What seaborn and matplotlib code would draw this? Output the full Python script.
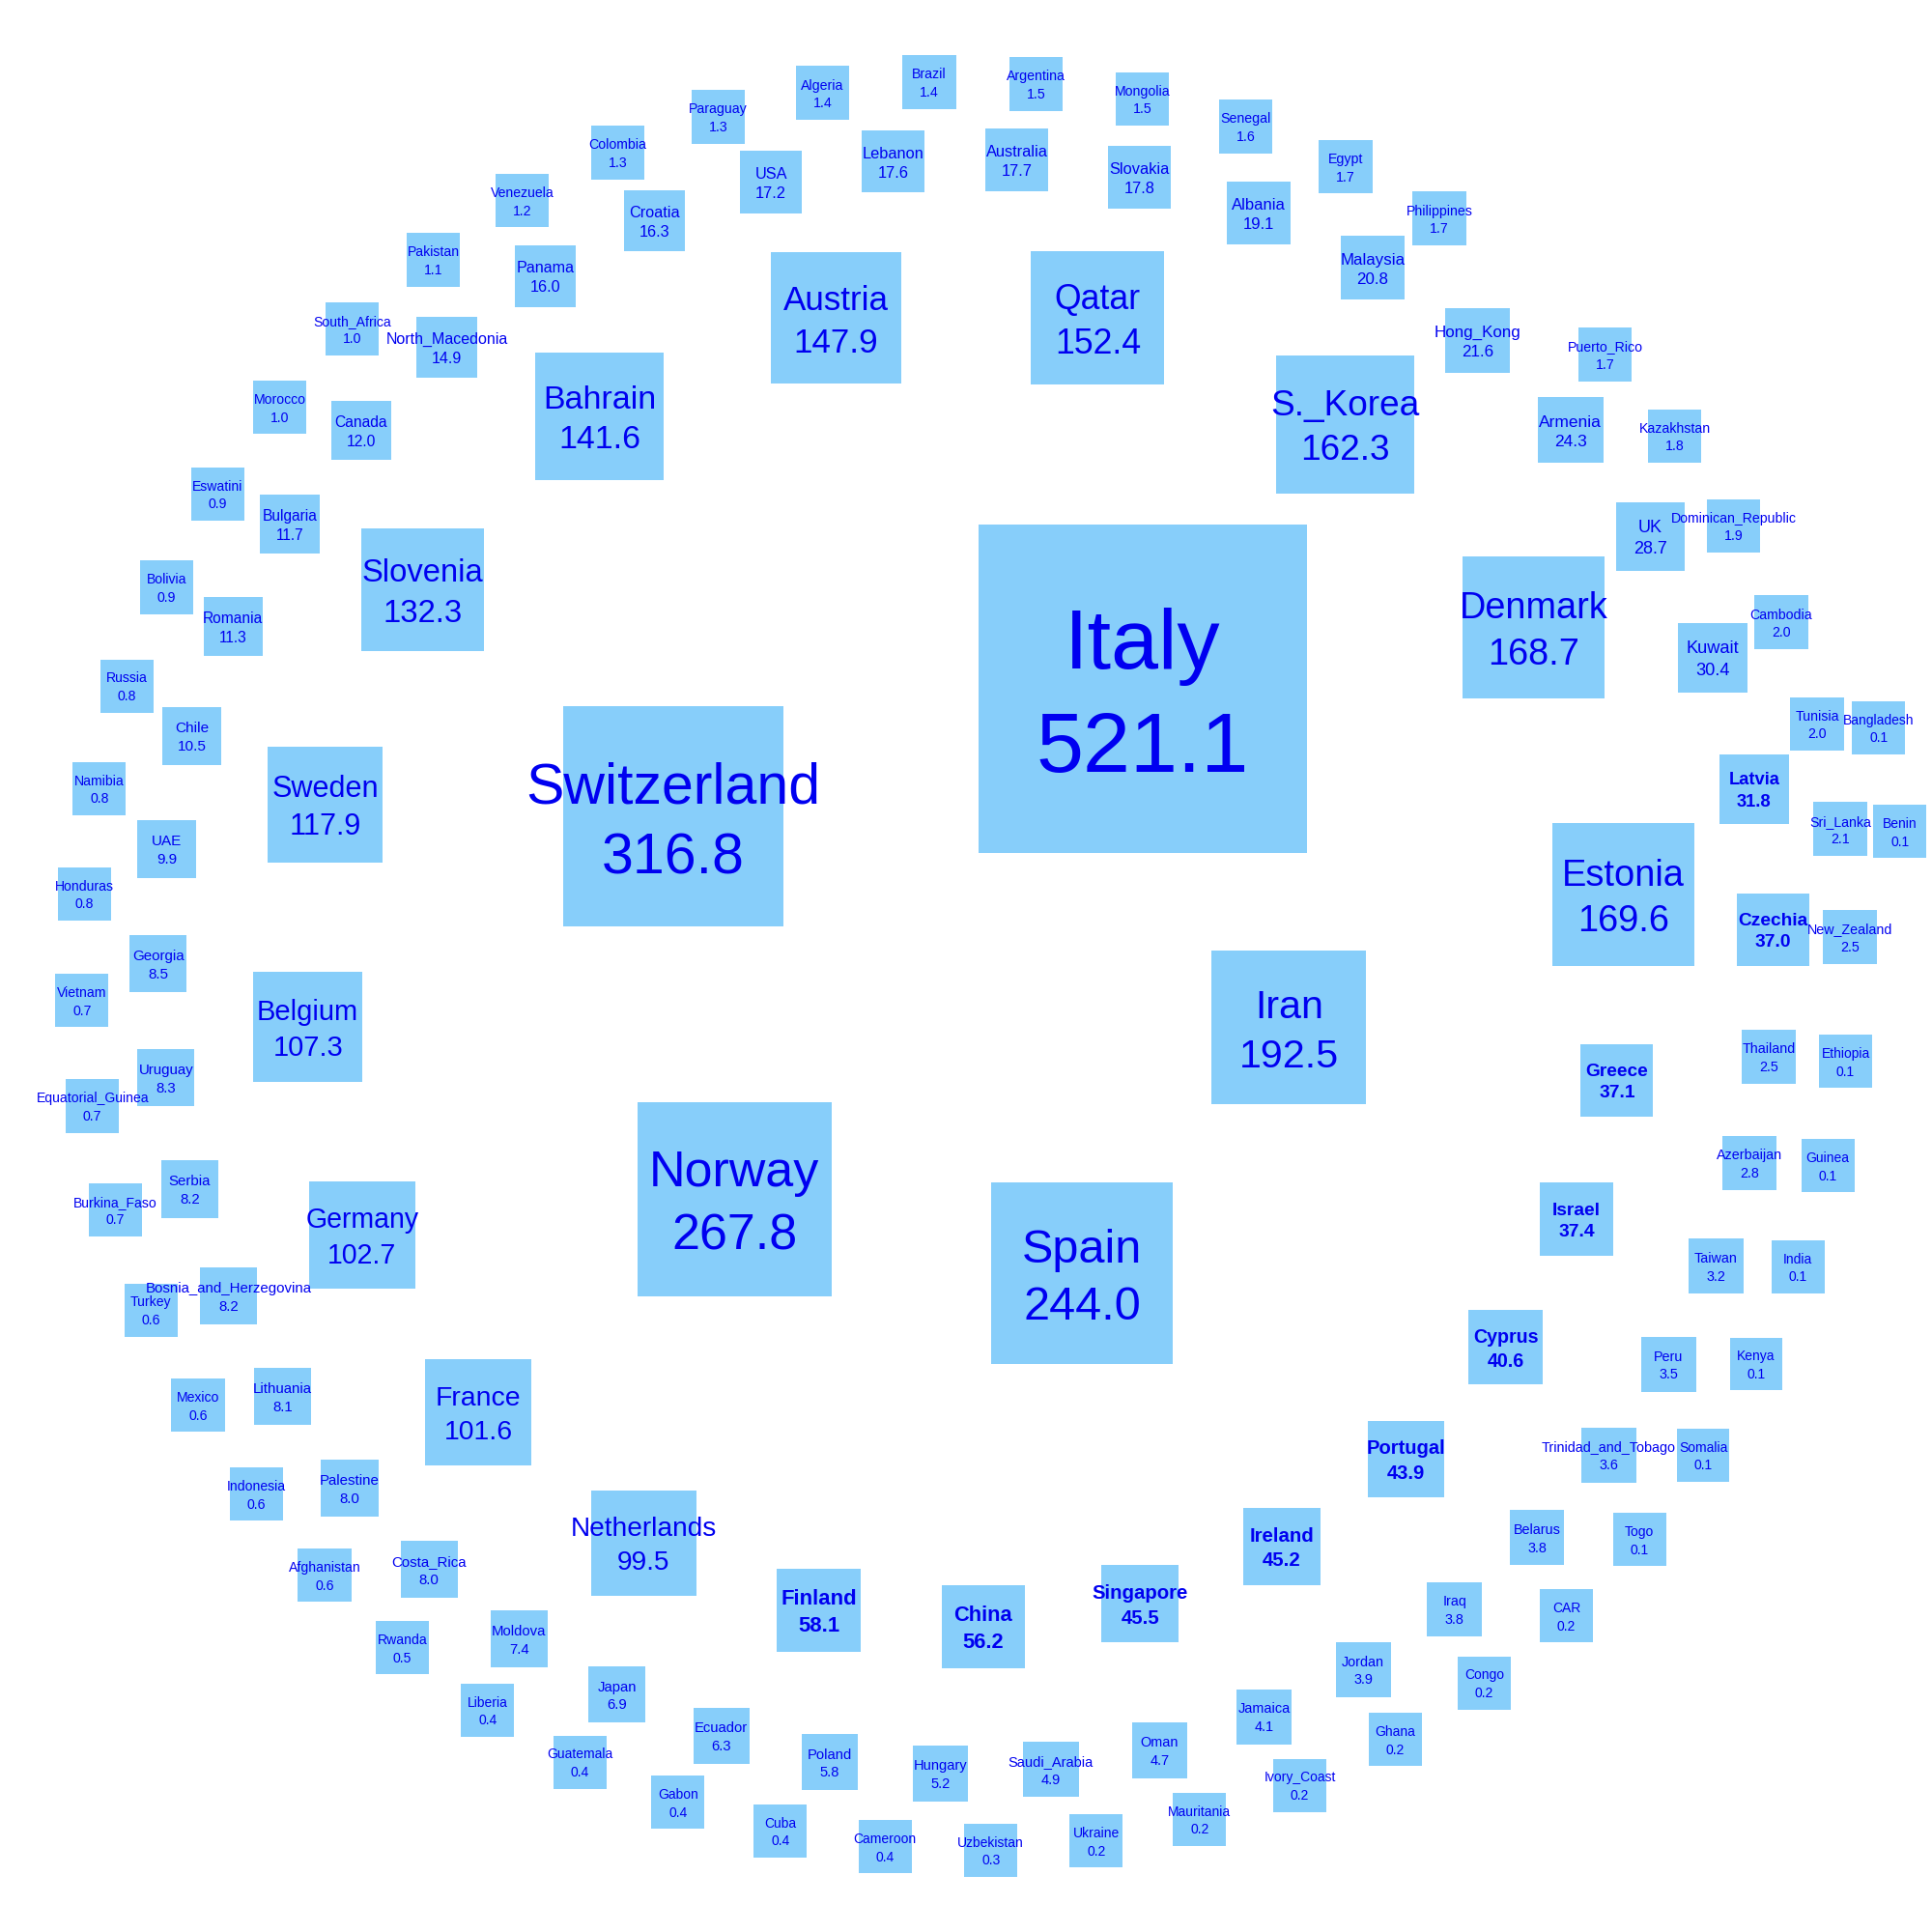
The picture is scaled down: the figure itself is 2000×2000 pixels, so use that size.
import numpy as np
import pandas as pd
import matplotlib
matplotlib.use("Agg")
import matplotlib.pyplot as plt
import seaborn as sns

# data (sorted by value, largest first)
countries = [
    "Italy", "Switzerland", "Norway", "Spain", "Iran",
    "Estonia", "Denmark", "S._Korea", "Qatar", "Austria", "Bahrain", "Slovenia",
    "Sweden", "Belgium", "Germany", "France", "Netherlands", "Finland", "China",
    "Singapore", "Ireland", "Portugal", "Cyprus", "Israel", "Greece",
    "Czechia", "Latvia", "Kuwait", "UK", "Armenia", "Hong_Kong", "Malaysia",
    "Albania", "Slovakia", "Australia", "Lebanon", "USA", "Croatia", "Panama",
    "North_Macedonia", "Canada", "Bulgaria", "Romania", "Chile", "UAE", "Georgia",
    "Uruguay", "Serbia", "Bosnia_and_Herzegovina", "Lithuania", "Palestine",
    "Costa_Rica", "Moldova", "Japan", "Ecuador", "Poland", "Hungary",
    "Saudi_Arabia", "Oman", "Jamaica", "Jordan", "Iraq", "Belarus",
    "Trinidad_and_Tobago", "Peru", "Taiwan", "Azerbaijan", "Thailand",
    "New_Zealand", "Sri_Lanka", "Tunisia", "Cambodia", "Dominican_Republic",
    "Kazakhstan", "Puerto_Rico", "Philippines", "Egypt", "Senegal", "Mongolia",
    "Argentina", "Brazil", "Algeria", "Paraguay", "Colombia", "Venezuela",
    "Pakistan", "South_Africa", "Morocco", "Eswatini", "Bolivia", "Russia",
    "Namibia", "Honduras", "Vietnam", "Equatorial_Guinea", "Burkina_Faso",
    "Turkey", "Mexico", "Indonesia", "Afghanistan", "Rwanda", "Liberia",
    "Guatemala", "Gabon", "Cuba", "Cameroon", "Uzbekistan", "Ukraine",
    "Mauritania", "Ivory_Coast", "Ghana", "Congo", "CAR", "Togo", "Somalia",
    "Kenya", "India", "Guinea", "Ethiopia", "Benin", "Bangladesh",
]
values = [
    521.1, 316.8, 267.8, 244.0, 192.5,
    169.6, 168.7, 162.3, 152.4, 147.9, 141.6, 132.3,
    117.9, 107.3, 102.7, 101.6, 99.5, 58.1, 56.2,
    45.5, 45.2, 43.9, 40.6, 37.4, 37.1,
    37.0, 31.8, 30.4, 28.7, 24.3, 21.6, 20.8,
    19.1, 17.8, 17.7, 17.6, 17.2, 16.3, 16.0,
    14.9, 12.0, 11.7, 11.3, 10.5, 9.9, 8.5,
    8.3, 8.2, 8.2, 8.1, 8.0,
    8.0, 7.4, 6.9, 6.3, 5.8, 5.2,
    4.9, 4.7, 4.1, 3.9, 3.8, 3.8,
    3.6, 3.5, 3.2, 2.8, 2.5,
    2.5, 2.1, 2.0, 2.0, 1.9,
    1.8, 1.7, 1.7, 1.7, 1.6, 1.5,
    1.5, 1.4, 1.4, 1.3, 1.3, 1.2,
    1.1, 1.0, 1.0, 0.9, 0.9, 0.8,
    0.8, 0.8, 0.7, 0.7, 0.7,
    0.6, 0.6, 0.6, 0.6, 0.5, 0.4,
    0.4, 0.4, 0.4, 0.4, 0.3, 0.2,
    0.2, 0.2, 0.2, 0.2, 0.2, 0.1, 0.1,
    0.1, 0.1, 0.1, 0.1, 0.1, 0.1,
]

# layout settings (pixels of a 2000x2000 canvas)
SIZE = 2000
CENTER = 1000
SIDE_MIN, SIDE_SLOPE = 54.8, 0.546          # square side grows linearly with value
FONT_MIN, FONT_SLOPE = 10.0, 0.1025          # label size (pt) grows linearly too
RING_COUNTS = [5, 20, 43, 51, 2]
RING_PHASE = [57.5, 6.2, 2.6, 1.9, 8.2]      # degrees of the first square per ring
RING_STEP = [1.0, 0.997, 0.9955, 0.9975, 1.0]
RING_GAP = 4.6
PAD = 2.0

vals = np.array(values)
side = SIDE_MIN + SIDE_SLOPE * vals


def collides(x, y, s, placed):
    for px, py, ps in placed:
        lim = (s + ps) / 2 + PAD
        if abs(x - px) < lim and abs(y - py) < lim:
            return True
    return False


# concentric ring layout, counter-clockwise, skipping slots that overlap
xs, ys = np.zeros(len(vals)), np.zeros(len(vals))
placed = []
start = 0
r = None
for k, n in enumerate(RING_COUNTS):
    if r is None:
        r = side[0] + 1
    else:
        r = r + side[prev_first] + RING_GAP
    prev_first = start
    theta = np.radians(RING_PHASE[k])
    for i in range(start, start + n):
        if i > start:
            step = RING_STEP[k] * (side[i - 1] + side[i]) / r
            theta += step
            while collides(CENTER + r * np.cos(theta), CENTER - r * np.sin(theta), side[i], placed):
                theta += step
        xs[i] = CENTER + r * np.cos(theta)
        ys[i] = CENTER - r * np.sin(theta)
        placed.append((xs[i], ys[i], side[i]))
    start += n

df = pd.DataFrame({"country": countries, "value": vals, "x": xs, "y": ys})
df["area"] = (side * 72 / 100) ** 2   # marker area in points^2 (dpi 100)

sns.set_style("white")
plt.rcParams["font.family"] = ["Liberation Sans", "DejaVu Sans"]

fig = plt.figure(figsize=(20, 20), dpi=100)
ax = fig.add_axes([0, 0, 1, 1])
amin, amax = df["area"].min(), df["area"].max()
sns.scatterplot(data=df, x="x", y="y", size="area", sizes=(amin, amax),
                size_norm=(amin, amax), marker="s", color="#87CEFA",
                linewidth=0, legend=False, ax=ax)

for _, row in df.iterrows():
    fs = FONT_MIN + FONT_SLOPE * row["value"]
    bold = 30.5 < row["value"] < 60
    # nudge down a little so the two lines sit centred on the square
    dy = 0.115 * fs * 100 / 72
    ax.text(row["x"], row["y"] + dy, f"{row['country']}\n{row['value']:.1f}",
            ha="center", va="center", fontsize=fs, color="#0000F0",
            fontweight="bold" if bold else "normal", linespacing=1.42)

ax.set_xlim(0, SIZE)
ax.set_ylim(SIZE, 0)
ax.axis("off")
fig.savefig("out.png", dpi=100, facecolor="white")
